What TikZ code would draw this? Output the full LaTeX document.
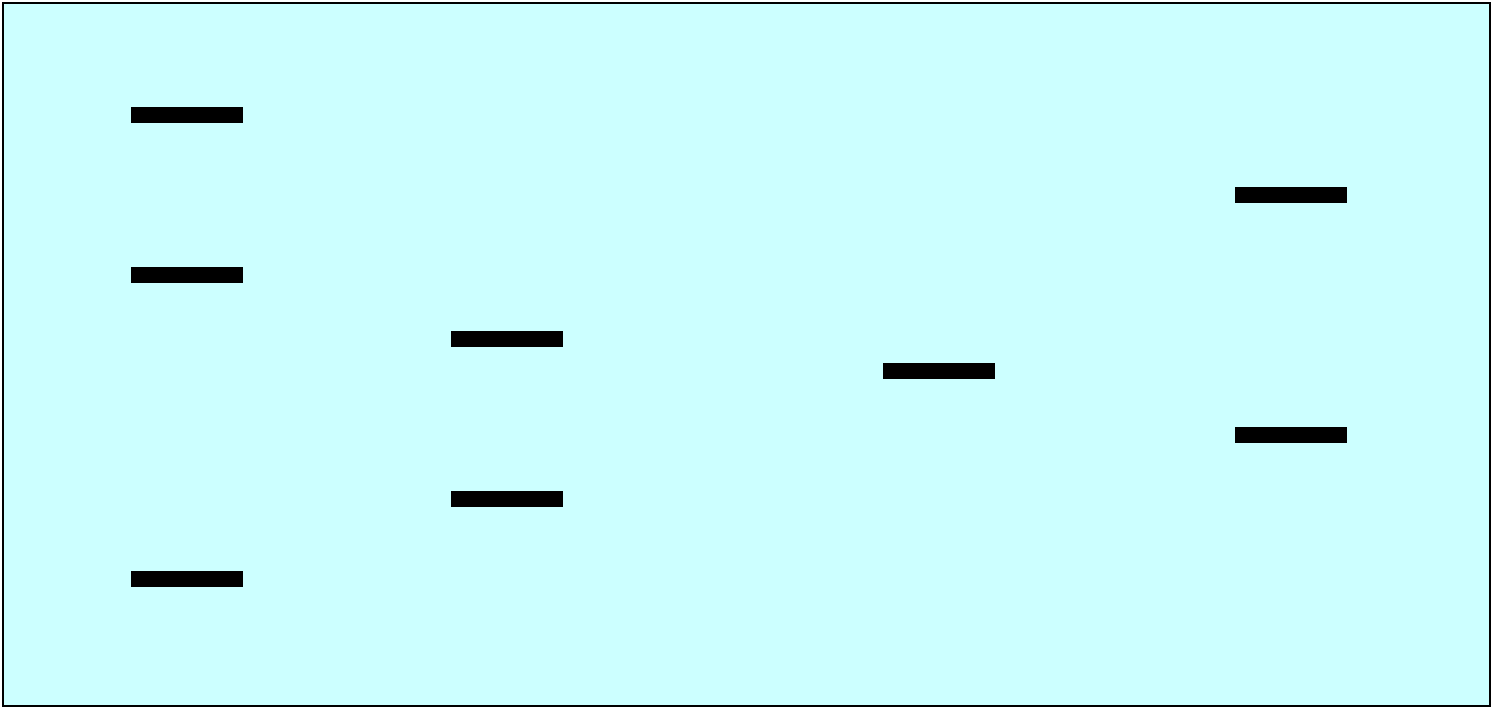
\documentclass[tikz,border=0pt]{standalone}
\definecolor{bgcyan}{HTML}{CCFFFF}
\begin{document}
\begin{tikzpicture}[x=1pt,y=-1pt,
  bar/.style={fill=black,draw=none,rectangle,inner sep=0pt,minimum width=112pt,minimum height=16pt},
  frame/.style={draw=black,fill=bgcyan,line width=2pt}]
\useasboundingbox (0,0) rectangle (1491,707);
\draw[frame] (3,3) rectangle (1490,706);
\node[bar] (a1) at (187,115) {};
\node[bar] (a2) at (187,275) {};
\node[bar] (a3) at (187,579) {};
\node[bar] (b1) at (507,339) {};
\node[bar] (b2) at (507,499) {};
\node[bar] (c1) at (939,371) {};
\node[bar] (d1) at (1291,195) {};
\node[bar] (d2) at (1291,435) {};
\end{tikzpicture}
\end{document}
